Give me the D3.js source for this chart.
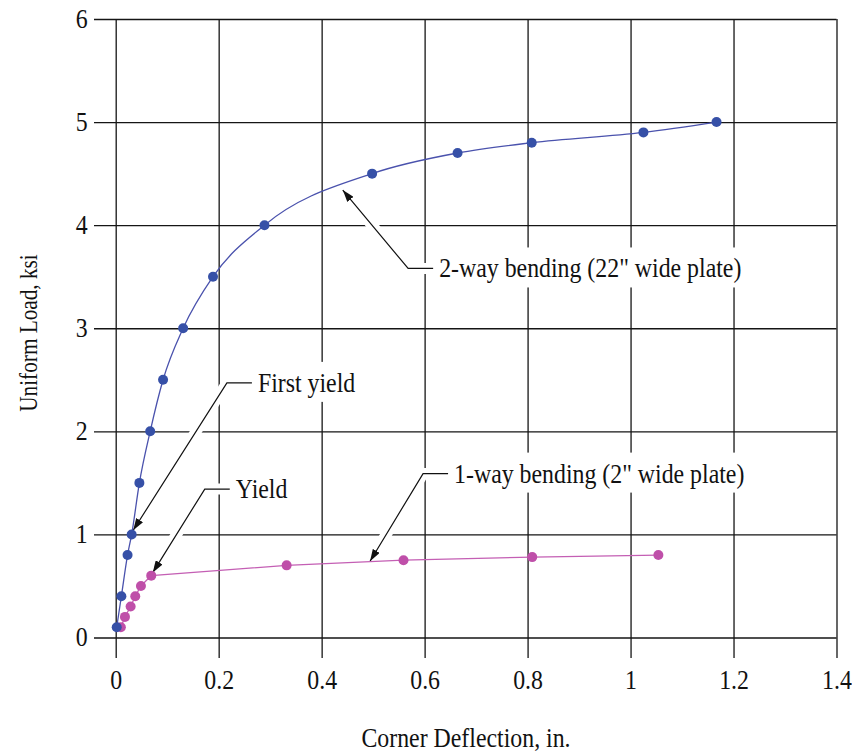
<!DOCTYPE html>
<html lang="en">
<head>
    <meta charset="UTF-8">
    <title>Uniform Load vs Corner Deflection</title>
    <script src="https://d3js.org/d3.v7.min.js"></script>
    <style>
        body { margin: 0; background: #fff; }
        text { font-family: "Liberation Serif", "Times New Roman", serif; fill: #111; }
    </style>
</head>
<body>
<script>
    // values
    var xTicks = [0, 0.2, 0.4, 0.6, 0.8, 1.0, 1.2, 1.4];
    var xTickLabels = ["0", "0.2", "0.4", "0.6", "0.8", "1", "1.2", "1.4"];
    var yTicks = [0, 1, 2, 3, 4, 5, 6];
    var yTickLabels = ["0", "1", "2", "3", "4", "5", "6"];

    // 2-way bending (22" wide plate)
    var twoWayDefl = [0.002, 0.011, 0.023, 0.031, 0.046, 0.067, 0.092, 0.131, 0.189, 0.289, 0.498, 0.664, 0.808, 1.025, 1.167];
    var twoWayLoad = [0.1, 0.4, 0.8, 1.0, 1.5, 2.0, 2.5, 3.0, 3.5, 4.0, 4.5, 4.7, 4.8, 4.9, 5.0];

    // 1-way bending (2" wide plate)
    var oneWayDefl = [0.010, 0.018, 0.029, 0.038, 0.049, 0.069, 0.332, 0.559, 0.809, 1.054];
    var oneWayLoad = [0.1, 0.2, 0.3, 0.4, 0.5, 0.6, 0.7, 0.75, 0.78, 0.8];

    // annotation text, arrow tip and elbow in data units
    var noteText = ["2-way bending (22\" wide plate)", "First yield", "Yield", "1-way bending (2\" wide plate)"];
    var noteTip = [[0.441, 4.34], [0.034, 1.04], [0.072, 0.63], [0.494, 0.74]];
    var noteElbow = [[0.568, 3.58], [0.216, 2.47], [0.173, 1.44], [0.597, 1.59]];

    var width = 852, height = 753;
    var fontSize = 26.5, squeeze = 0.9;   // the original type is a narrow Times
    var svg = d3.select("body").append("svg")
        .attr("width", width)
        .attr("height", height);

    var x = d3.scaleLinear().domain([0, 1.4]).range([115.7, 836.5]);
    var y = d3.scaleLinear().domain([0, 6]).range([637.5, 19]);

    var gridLeft = 94, gridBottom = 658;

    // x axis: ticks are the vertical grid lines
    var xAxis = svg.append("g")
        .attr("transform", "translate(0," + gridBottom + ")")
        .call(d3.axisBottom(x)
            .tickValues(xTicks)
            .tickFormat(function(d, i) { return xTickLabels[i]; })
            .tickSize(-(gridBottom - y(6)))
            .tickPadding(12));

    var yAxis = svg.append("g")
        .attr("transform", "translate(" + gridLeft + ",0)")
        .call(d3.axisLeft(y)
            .tickValues(yTicks)
            .tickFormat(function(d, i) { return yTickLabels[i]; })
            .tickSize(-(x(1.4) - gridLeft))
            .tickPadding(7));

    [xAxis, yAxis].forEach(function(g) {
        g.attr("font-family", null).attr("font-size", null);
        g.select(".domain").remove();
        g.selectAll("line").attr("stroke", "#151515").attr("stroke-width", 1.3);
        g.selectAll("text")
            .style("font-size", fontSize + "px")
            .attr("transform", "scale(" + squeeze + ",1)");
    });

    // axis titles
    svg.append("text")
        .attr("transform", "translate(466,747) scale(" + squeeze + ",1)")
        .attr("text-anchor", "middle")
        .style("font-size", fontSize + "px")
        .text("Corner Deflection, in.");

    svg.append("text")
        .attr("transform", "translate(37,333) rotate(-90) scale(0.85,1)")
        .attr("text-anchor", "middle")
        .style("font-size", "25px")
        .text("Uniform Load, ksi");

    // annotations (drawn under the data)
    svg.append("defs").append("marker")
        .attr("id", "arrow")
        .attr("viewBox", "0 0 12 8")
        .attr("refX", 12)
        .attr("refY", 4)
        .attr("markerWidth", 12)
        .attr("markerHeight", 8)
        .attr("markerUnits", "userSpaceOnUse")
        .attr("orient", "auto")
        .append("path")
        .attr("d", "M0,0 L12,4 L0,8 Z")
        .attr("fill", "#111");

    var notes = svg.append("g");
    noteText.forEach(function(t, i) {
        var tip = [x(noteTip[i][0]), y(noteTip[i][1])];
        var elb = [x(noteElbow[i][0]), y(noteElbow[i][1])];
        var hEnd = [elb[0] + 25, elb[1]];
        var pts = [hEnd, elb, tip];

        var g = notes.append("g");
        var bg = g.append("rect").attr("fill", "#fff");
        g.append("path")
            .attr("d", d3.line()(pts))
            .attr("fill", "none")
            .attr("stroke", "#fff")
            .attr("stroke-width", 11);
        g.append("path")
            .attr("d", d3.line()(pts))
            .attr("fill", "none")
            .attr("stroke", "#111")
            .attr("stroke-width", 1.2)
            .attr("marker-end", "url(#arrow)");
        var label = g.append("text")
            .attr("transform", "translate(" + (hEnd[0] + 6) + "," + (elb[1] + 9) + ") scale(" + squeeze + ",1)")
            .style("font-size", fontSize + "px")
            .text(t);
        var w = label.node().getBBox().width * squeeze;
        bg.attr("x", hEnd[0] - 2)
            .attr("y", elb[1] - 21)
            .attr("width", w + 12)
            .attr("height", 40);
    });

    var oneWay = oneWayDefl.map(function(d, i) { return [d, oneWayLoad[i]]; });
    var twoWay = twoWayDefl.map(function(d, i) { return [d, twoWayLoad[i]]; });

    var series = [
        { data: oneWay, line: "#c45fb4", dot: "#bf4fa9", curve: d3.curveLinear },
        { data: twoWay, line: "#4a52ad", dot: "#3650a7", curve: d3.curveMonotoneX }
    ];

    series.forEach(function(s) {
        var line = d3.line()
            .x(function(d) { return x(d[0]); })
            .y(function(d) { return y(d[1]); })
            .curve(s.curve);
        svg.append("path")
            .attr("d", line(s.data))
            .attr("fill", "none")
            .attr("stroke", s.line)
            .attr("stroke-width", 1.3);
        svg.append("g").selectAll("circle")
            .data(s.data)
            .enter()
            .append("circle")
            .attr("cx", function(d) { return x(d[0]); })
            .attr("cy", function(d) { return y(d[1]); })
            .attr("r", 5)
            .attr("fill", s.dot);
    });
</script>
</body>
</html>
